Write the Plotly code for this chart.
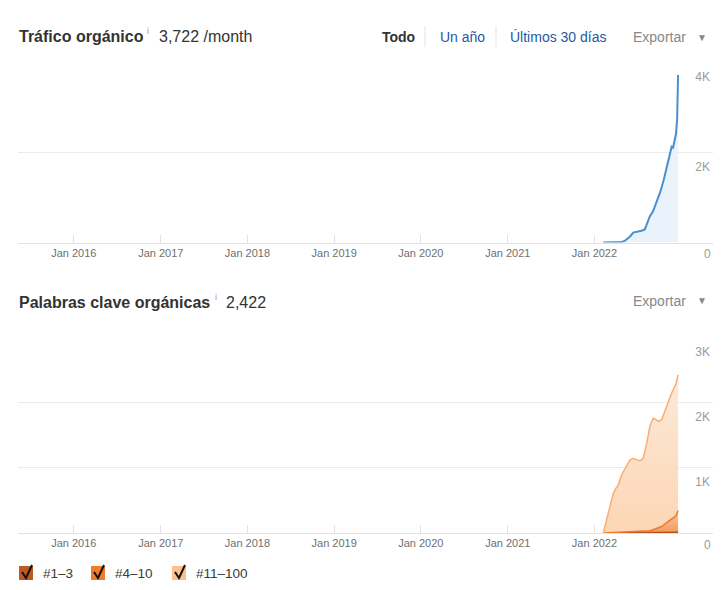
import plotly.graph_objects as go

W, H = 724, 590

# ---------------- data ----------------
traffic_dates = ["2022-02-07", "2022-03-10", "2022-04-10", "2022-04-25", "2022-05-08",
                 "2022-05-20", "2022-06-01", "2022-06-13", "2022-06-22", "2022-07-04",
                 "2022-07-18", "2022-08-01", "2022-08-12", "2022-08-22", "2022-09-05",
                 "2022-09-20", "2022-10-06", "2022-10-20", "2022-11-01", "2022-11-14",
                 "2022-11-22", "2022-11-28", "2022-12-05", "2022-12-10", "2022-12-15",
                 "2022-12-18", "2022-12-19"]
traffic_values = [0, 3, 6, 12, 35, 80, 140, 220, 230, 240, 262, 290, 450, 580, 700,
                  920, 1140, 1400, 1660, 1920, 2130, 2110, 2250, 2410, 2745, 3340, 3722]

kw_dates = ["2022-02-07", "2022-02-28", "2022-03-21", "2022-04-01", "2022-04-11",
            "2022-04-25", "2022-05-09", "2022-05-30", "2022-06-13", "2022-06-27",
            "2022-07-11", "2022-07-25", "2022-08-09", "2022-08-22", "2022-09-05",
            "2022-09-17", "2022-09-26", "2022-10-11", "2022-11-01", "2022-11-22",
            "2022-12-10", "2022-12-19"]
kw_top3 = [0, 1, 1, 1, 2, 2, 2, 3, 3, 3, 4, 4, 4, 5, 5, 6, 6, 7, 8, 10, 11, 12]
kw_4_10 = [0, 2, 4, 5, 5, 8, 10, 13, 16, 19, 21, 24, 28, 31, 45, 59, 72, 93, 152, 205, 250, 331]
kw_11_100 = [0, 280, 601, 677, 727, 878, 978, 1102, 1125, 1096, 1078, 1116, 1343, 1595,
             1710, 1669, 1630, 1634, 1778, 1929, 2020, 2079]

year_ticks = ["2016-01-01", "2017-01-01", "2018-01-01", "2019-01-01",
              "2020-01-01", "2021-01-01", "2022-01-01"]
year_labels = ["Jan 2016", "Jan 2017", "Jan 2018", "Jan 2019",
               "Jan 2020", "Jan 2021", "Jan 2022"]
traffic_ticks = [0, 2000, 4000]
traffic_tick_labels = ["0", "2K", "4K"]
kw_ticks = [0, 1000, 2000, 3000]
kw_tick_labels = ["0", "1K", "2K", "3K"]
x_range = ["2015-05-11", "2023-05-15"]

FONT = "Liberation Sans, Arial, Helvetica, sans-serif"


def px(x):
    return x / W


def py(y):
    return 1 - y / H


fig = go.Figure()

fig.add_trace(go.Scatter(
    x=traffic_dates, y=traffic_values, mode="lines",
    line=dict(color="#4a8fd0", width=2), fill="tozeroy", fillcolor="#eaf3fb",
    xaxis="x", yaxis="y", showlegend=False, hoverinfo="skip"))

fig.add_trace(go.Scatter(
    x=kw_dates, y=kw_top3, mode="lines", stackgroup="kw",
    line=dict(color="#b9501c", width=1.5), fillcolor="#c96a35",
    xaxis="x2", yaxis="y2", showlegend=False, hoverinfo="skip"))
fig.add_trace(go.Scatter(
    x=kw_dates, y=kw_4_10, mode="lines", stackgroup="kw",
    line=dict(color="#ee7a2c", width=1.5),
    fillgradient=dict(type="vertical", colorscale=[[0, "#f39a5c"], [1, "#f9c9a2"]]),
    xaxis="x2", yaxis="y2", showlegend=False, hoverinfo="skip"))
fig.add_trace(go.Scatter(
    x=kw_dates, y=kw_11_100, mode="lines", stackgroup="kw",
    line=dict(color="#f8ae74", width=1.5),
    fillgradient=dict(type="vertical", colorscale=[[0, "#fcd6b5"], [1, "#fde9d8"]]),
    xaxis="x2", yaxis="y2", showlegend=False, hoverinfo="skip"))

xdom = [px(18), px(713)]
xcommon = dict(type="date", range=x_range, tickvals=year_ticks, ticktext=year_labels,
               ticks="inside", ticklen=8, tickcolor="#e3e3e3", tickwidth=1,
               showgrid=False, zeroline=False, showline=True, linecolor="#e3e3e3",
               linewidth=1, tickfont=dict(family=FONT, size=11, color="#6f6f6f"),
               fixedrange=True)
ycommon = dict(side="right", ticklabelposition="inside bottom", ticklabelshift=6,
               showgrid=True, gridcolor="#ebebeb", gridwidth=1, zeroline=False,
               showline=False, ticks="",
               tickfont=dict(family=FONT, size=12, color="#9a9a9a"),
               fixedrange=True)

fig.update_layout(
    width=W, height=H, margin=dict(l=0, r=0, t=0, b=0),
    paper_bgcolor="white", plot_bgcolor="white",
    font=dict(family=FONT),
    xaxis=dict(domain=xdom, anchor="y", **xcommon),
    xaxis2=dict(domain=xdom, anchor="y2", **xcommon),
    yaxis=dict(domain=[py(242.5), py(62.5)], anchor="x", range=[0, 4000],
               tickvals=traffic_ticks, ticktext=traffic_tick_labels, **ycommon),
    yaxis2=dict(domain=[py(533), py(337)], anchor="x2", range=[0, 3000],
                tickvals=kw_ticks, ticktext=kw_tick_labels, **ycommon),
    showlegend=False,
)

ann = []


def text(t, x, y, size, color, bold=False, anchor="left"):
    if bold:
        t = "<b>" + t + "</b>"
    ann.append(dict(text=t, x=px(x), y=py(y), xref="paper", yref="paper",
                    xanchor=anchor, yanchor="middle", showarrow=False,
                    font=dict(family=FONT, size=size, color=color)))


# zero labels of the value axes (hidden by plotly when inside and below the plot)
for yref, ticks, labels in [("y", traffic_ticks, traffic_tick_labels),
                            ("y2", kw_ticks, kw_tick_labels)]:
    ann.append(dict(text=labels[0], x=px(713), y=ticks[0], xref="paper", yref=yref,
                    xanchor="right", yanchor="middle", yshift=-12, showarrow=False,
                    font=dict(family=FONT, size=12, color="#9a9a9a")))

# header 1
text("Tráfico orgánico", 17, 36, 16, "#333", bold=True)
text("i", 145, 31, 9, "#999")
text("3,722 /month", 157, 36, 16, "#333")
text("Todo", 380, 37, 14, "#333", bold=True)
text("Un año", 438, 37, 14, "#1f5aa0")
text("Últimos 30 días", 508, 37, 14, "#1f5aa0")
text("Exportar", 631, 37, 14, "#888")
text("▼", 702, 37, 10, "#888", anchor="center")
# header 2
text("Palabras clave orgánicas", 17, 302, 16, "#333", bold=True)
text("i", 213, 297, 9, "#999")
text("2,422", 224, 302, 16, "#333")
text("Exportar", 631, 301, 14, "#888")
text("▼", 702, 301, 10, "#888", anchor="center")

# legend
legend_items = ["#1–3", "#4–10", "#11–100"]
legend_colors = ["#c0581f", "#f07c2a", "#fbc08c"]
legend_x = [19, 91, 172]
shapes = []
for lab, col, x0 in zip(legend_items, legend_colors, legend_x):
    shapes.append(dict(type="rect", xref="paper", yref="paper",
                       x0=px(x0), x1=px(x0 + 14), y0=py(580), y1=py(566),
                       fillcolor=col, line=dict(width=0), layer="above"))
    path = "M {} {} L {} {} L {} {}".format(px(x0 + 3), py(572), px(x0 + 7), py(578),
                                            px(x0 + 13), py(565))
    shapes.append(dict(type="path", xref="paper", yref="paper", path=path,
                       line=dict(color="#111", width=2), layer="above"))
    text(lab, x0 + 22, 573, 13.5, "#3a3a3a")

for sx in [425, 496]:
    shapes.append(dict(type="line", xref="paper", yref="paper", x0=px(sx), x1=px(sx),
                       y0=py(26), y1=py(47), line=dict(color="#e3e3e3", width=1)))

fig.update_layout(annotations=ann, shapes=shapes)
fig.write_html("out.html")
